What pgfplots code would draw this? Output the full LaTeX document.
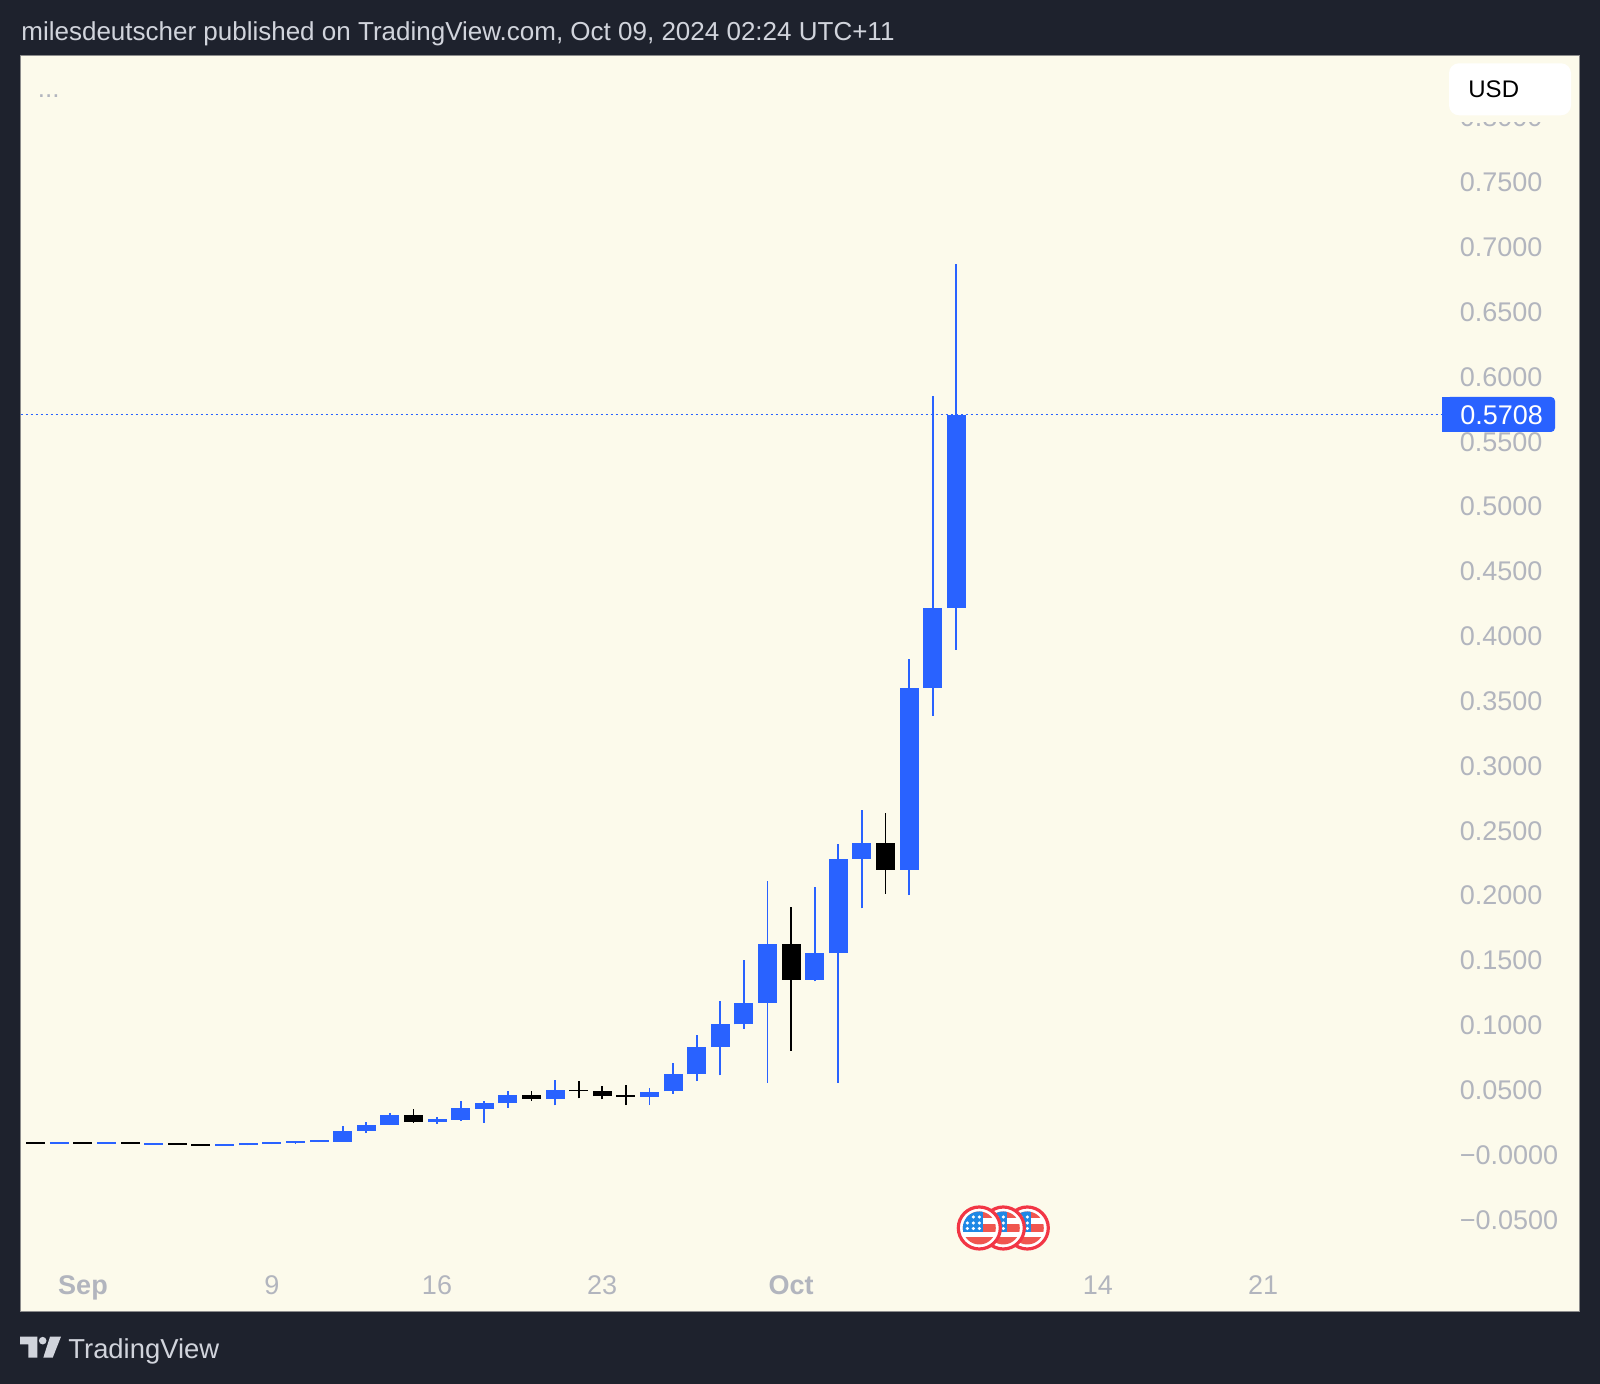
\documentclass[border=0pt]{standalone}
\usepackage{pgfplots}
\usepackage{pgfplotstable}
\usepackage{fontspec}
\setmainfont{Liberation Sans}
\pgfplotsset{compat=1.18}
\definecolor{tvdark}{HTML}{1E222D}
\definecolor{tvcream}{HTML}{FCFAEB}
\definecolor{tvblue}{HTML}{2962FF}
\definecolor{tvgrey}{HTML}{B2B5BE}
\definecolor{tvlight}{HTML}{D1D4DC}
\definecolor{flagred}{HTML}{F23645}
\definecolor{flagstripe}{HTML}{F0564F}
\definecolor{flagblue}{HTML}{1E88E5}

\pgfplotstableread{
d top bot high low
0 .0104 .0089 .0104 .0089
2 .0104 .0089 .0104 .0089
4 .0096 .0081 .0096 .0081
7 .0086 .0071 .0086 .0071
8 .0090 .0075 .0090 .0075
9 .0099 .0084 .0099 .0084
10 .0109 .0094 .0109 .0086
11 .0114 .0099 .0114 .0099
12 .0188 .0101 .0224 .0101
13 .0230 .0186 .0253 .0170
14 .0307 .0230 .0322 .0230
16 .0276 .0255 .0296 .0240
17 .0361 .0273 .0419 .0265
18 .0401 .0357 .0417 .0250
19 .0463 .0401 .0494 .0365
21 .0499 .0435 .0579 .0384
25 .0488 .0450 .0519 .0386
26 .0625 .0492 .0707 .0471
27 .0833 .0625 .0924 .0571
28 .1008 .0833 .1188 .0615
29 .1173 .1008 .1504 .0975
30 .1628 .1173 .2113 .0558
32 .1558 .1350 .2067 .1340
33 .2283 .1558 .2398 .0558
34 .2404 .2283 .2661 .1903
36 .3604 .2201 .3825 .2005
37 .4218 .3604 .5853 .3388
38 .5708 .4218 .6870 .3897
}\bluecandles

\pgfplotstableread{
d top bot high low
-1 .0104 .0089 .0104 .0089
1 .0104 .0089 .0104 .0089
3 .0104 .0089 .0104 .0089
5 .0095 .0080 .0095 .0080
6 .0088 .0073 .0088 .0073
15 .0307 .0255 .0355 .0247
20 .0463 .0435 .0494 .0417
22 .0503 .0491 .0569 .0438
23 .0494 .0455 .0530 .0430
24 .0461 .0449 .0540 .0386
31 .1628 .1350 .1915 .0805
35 .2404 .2201 .2638 .2015
}\blackcandles

% One US-flag event marker, centred at px (#1,#2)
\newcommand{\flagmark}[2]{%
  \begin{scope}[shift={(#1,#2)}]
    \fill[white] (0,0) circle[radius=22];
    \draw[flagred,line width=1.6pt] (0,0) circle[radius=21];
    \begin{scope}
      \clip (0,0) circle[radius=16.5];
      \fill[white] (-17,-17) rectangle (17,17);
      \fill[flagstripe] (-17,-17) rectangle (17,-10);
      \fill[flagstripe] (-17,-3.7) rectangle (17,3.7);
      \fill[flagstripe] (-17,9.3) rectangle (17,17);
      \fill[flagblue] (-17,-17) rectangle (4,3.7);
      \foreach \sx/\sy in {-6/-11,0/-11,-12/-5,-6/-5,0/-5,-12/0.5,-6/0.5,0/0.5}
        \fill[white] (\sx,\sy) circle[radius=1.7];
    \end{scope}
  \end{scope}}

\begin{document}
\begin{tikzpicture}
\fill[tvdark] (0,0) rectangle (800pt,692pt);
\begin{axis}[
  at={(10.25pt,36.25pt)}, anchor=south west,
  scale only axis, width=779.5pt, height=628.25pt,
  xmin=-1.648, xmax=64.41, ymin=-0.1206, ymax=0.8482,
  axis background/.style={fill=tvcream},
  axis line style={draw=black!45,line width=.4pt},
  tick style={draw=none},
  xtick={1,9,16,23,31,44,51},
  xticklabels={\textbf{Sep},9,16,23,\textbf{Oct},14,21},
  xticklabel style={anchor=base,yshift=8.5pt,text=tvgrey,font=\fontsize{13.5}{15}\selectfont},
  ytick={-0.05,0,0.05,0.1,0.15,0.2,0.25,0.3,0.35,0.4,0.45,0.5,0.55,0.6,0.65,0.7,0.75,0.8},
  yticklabels={−0.0500,−0.0000,0.0500,0.1000,0.1500,0.2000,0.2500,0.3000,0.3500,0.4000,0.4500,0.5000,0.5500,0.6000,0.6500,0.7000,0.7500,0.8000},
  yticklabel pos=right,
  yticklabel style={anchor=west,xshift=-63.4pt,text=tvgrey,font=\fontsize{13.5}{15}\selectfont},
]
\addplot[tvblue,line width=.6pt,dash pattern=on 1pt off 1.5pt] coordinates {(-1.648,0.5708) (58.6,0.5708)};
% wicks
\addplot[draw=none,no markers,forget plot,
  error bars/.cd,y dir=plus,y explicit,error mark=none,
  error bar style={tvblue,line width=.9pt}]
  table[x=d,y=low,y error plus expr=\thisrow{high}-\thisrow{low}] {\bluecandles};
\addplot[draw=none,no markers,forget plot,
  error bars/.cd,y dir=plus,y explicit,error mark=none,
  error bar style={black,line width=.9pt}]
  table[x=d,y=low,y error plus expr=\thisrow{high}-\thisrow{low}] {\blackcandles};
% bodies
\addplot[draw=none,no markers,forget plot,
  error bars/.cd,y dir=plus,y explicit,error mark=none,
  error bar style={tvblue,line width=9.5pt}]
  table[x=d,y=bot,y error plus expr=\thisrow{top}-\thisrow{bot}] {\bluecandles};
\addplot[draw=none,no markers,forget plot,
  error bars/.cd,y dir=plus,y explicit,error mark=none,
  error bar style={black,line width=9.5pt}]
  table[x=d,y=bot,y error plus expr=\thisrow{top}-\thisrow{bot}] {\blackcandles};
\end{axis}

\begin{scope}[x=0.5pt,y=-0.5pt,shift={(0pt,692pt)}]
  % title
  \node[anchor=west,inner sep=0pt,text=tvlight,font=\fontsize{13}{15}\selectfont] at (21,34)
    {milesdeutscher published on TradingView.com, Oct 09, 2024 02:24 UTC+11};
  % dots
  \node[anchor=west,inner sep=0pt,text=tvgrey,font=\fontsize{13}{15}\selectfont] at (37.5,96) {...};
  % USD box
  \fill[tvcream] (1449,60) rectangle (1571,122);
  \fill[white,rounded corners=5pt] (1449,63.3) rectangle (1571,115.3);
  \node[anchor=west,inner sep=0pt,text=black,font=\fontsize{12}{14}\selectfont] at (1468,89) {USD};
  % price label
  \fill[tvblue,rounded corners=2pt] (1446,397) rectangle (1555,432);
  \fill[tvblue] (1442,397) rectangle (1450,432);
  \node[anchor=west,inner sep=0pt,text=white,font=\fontsize{13.5}{15}\selectfont] at (1460,415) {0.5708};
  % flags
  \flagmark{1027.3}{1228}
  \flagmark{1003.3}{1228}
  \flagmark{979.3}{1228}
  % logo
  \fill[tvlight] (20,1336.7) -- (37.3,1336.7) -- (37.3,1357.7) -- (28.3,1357.7) -- (28.3,1344.3) -- (20,1344.3) -- cycle;
  \fill[tvlight] (42.7,1340.7) circle[radius=3.8];
  \fill[tvlight] (50,1336.7) -- (61,1336.7) -- (52.7,1357.7) -- (43.3,1357.7) -- cycle;
  \node[anchor=west,inner sep=0pt,text=tvlight,font=\fontsize{13.7}{16}\selectfont] at (68,1351) {TradingView};
\end{scope}
\end{tikzpicture}
\end{document}
